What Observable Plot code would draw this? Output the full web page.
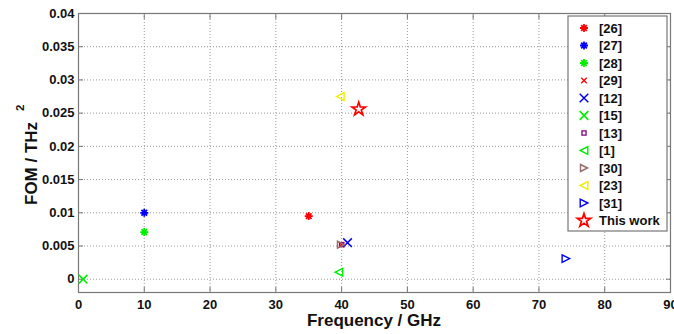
<!DOCTYPE html>
<html>
<head>
<meta charset="utf-8">
<script src="https://cdn.jsdelivr.net/npm/d3@7"></script>
<script src="https://cdn.jsdelivr.net/npm/@observablehq/plot@0.6"></script>
<style>
  html, body { margin: 0; padding: 0; background: #fff; }
  #chart { width: 674px; height: 334px; }
</style>
</head>
<body>
<div id="chart"></div>
<script>
// ---- data ----
const refs = ["[26]", "[27]", "[28]", "[29]", "[12]", "[15]", "[13]", "[1]", "[30]", "[23]", "[31]", "This work"];
const freqGHz = [35, 10, 10, 40, 40.9, 0.7, 40, 39.6, 39.9, 39.8, 74.1, 42.6];
const fomTHz2 = [0.0095, 0.0100, 0.0071, 0.0052, 0.0055, 0, 0.0052, 0.00105, 0.0052, 0.0275, 0.0031, 0.0256];
const xTicks = [0, 10, 20, 30, 40, 50, 60, 70, 80, 90];
const yTicks = [0, 0.005, 0.01, 0.015, 0.02, 0.025, 0.03, 0.035, 0.04];
const xLabel = "Frequency / GHz";
const yLabel = "FOM / THz";
const yLabelSup = "2";

// ---- marker shapes ----
const asterisk8 = { draw(ctx, size) { const r = Math.sqrt(size / Math.PI); const d = r * Math.SQRT1_2;
  ctx.moveTo(-r, 0); ctx.lineTo(r, 0); ctx.moveTo(0, -r); ctx.lineTo(0, r);
  ctx.moveTo(-d, -d); ctx.lineTo(d, d); ctx.moveTo(-d, d); ctx.lineTo(d, -d); } };
const triLeft = { draw(ctx, size) { const r = Math.sqrt(size / Math.PI);
  ctx.moveTo(-r, 0); ctx.lineTo(r, -r); ctx.lineTo(r, r); ctx.closePath(); } };
const triRight = { draw(ctx, size) { const r = Math.sqrt(size / Math.PI);
  ctx.moveTo(r, 0); ctx.lineTo(-r, -r); ctx.lineTo(-r, r); ctx.closePath(); } };

const styles = [
  { symbol: asterisk8, stroke: "#ff0000", r: 4, sw: 1.8 },
  { symbol: asterisk8, stroke: "#0000ff", r: 4, sw: 1.8 },
  { symbol: asterisk8, stroke: "#00ee00", r: 4, sw: 1.8 },
  { symbol: d3.symbolTimes, stroke: "#ff0000", r: 2.6, sw: 1.3 },
  { symbol: d3.symbolTimes, stroke: "#0000ff", r: 4, sw: 1.5 },
  { symbol: d3.symbolTimes, stroke: "#00ee00", r: 4, sw: 1.6 },
  { symbol: d3.symbolSquare, stroke: "#800080", r: 2.3, sw: 1.3 },
  { symbol: triLeft, stroke: "#00ee00", r: 3.8, sw: 1.4 },
  { symbol: triRight, stroke: "#9a6a6a", r: 3.5, sw: 1.4 },
  { symbol: triLeft, stroke: "#eeee00", r: 3.8, sw: 1.4 },
  { symbol: triRight, stroke: "#0000ff", r: 3.8, sw: 1.4 },
  { symbol: d3.symbolStar, stroke: "#ff0000", r: 4.2, sw: 1.7 }
];

const axisColor = "#777";
const font = "'Liberation Sans', Arial, Helvetica, sans-serif";

const plot = Plot.plot({
  width: 674, height: 334,
  marginTop: 13, marginRight: 4, marginBottom: 42, marginLeft: 78,
  style: { fontFamily: font, fontSize: "13px", fontWeight: "bold", background: "#fff", color: "#111" },
  x: { domain: [0, 90], label: null },
  y: { domain: [-0.002, 0.04], label: null },
  marks: [
    Plot.gridX(xTicks, { stroke: "#999", strokeOpacity: 1, strokeDasharray: "1,2" }),
    Plot.gridY(yTicks, { stroke: "#999", strokeOpacity: 1, strokeDasharray: "1,2" }),
    Plot.axisX(xTicks, { anchor: "bottom", tickSize: -5, tickPadding: 12, stroke: axisColor, fill: "#111", tickFormat: d => String(d) }),
    Plot.axisX(xTicks, { anchor: "top", tickSize: -5, stroke: axisColor, tickFormat: () => "" }),
    Plot.axisY(yTicks, { anchor: "left", tickSize: -5, tickPadding: 9, stroke: axisColor, fill: "#111", tickFormat: d => String(d) }),
    Plot.axisY(yTicks, { anchor: "right", tickSize: -5, stroke: axisColor, tickFormat: () => "" }),
    Plot.frame({ stroke: axisColor, strokeWidth: 1.2 }),
    ...refs.map((ref, i) => Plot.dot([i], {
      x: j => freqGHz[j], y: j => fomTHz2[j],
      symbol: styles[i].symbol, r: styles[i].r,
      stroke: styles[i].stroke, strokeWidth: styles[i].sw, fill: "none"
    }))
  ]
});

document.getElementById("chart").appendChild(plot);

// ---- axis titles and legend ----
const svg = d3.select(plot);
svg.append("text")
  .attr("x", 374).attr("y", 326)
  .attr("text-anchor", "middle")
  .attr("font-family", font).attr("font-size", 17).attr("font-weight", "bold").attr("fill", "#111")
  .text(xLabel);

const yl = svg.append("text")
  .attr("transform", "translate(37,205) rotate(-90)")
  .attr("text-anchor", "start")
  .attr("font-family", font).attr("font-size", 17).attr("font-weight", "bold").attr("fill", "#111");
yl.append("tspan").text(yLabel);
yl.append("tspan").attr("dx", 11).attr("dy", -13).attr("font-size", 11.5).text(yLabelSup);

const leg = svg.append("g").attr("transform", "translate(568,16)");
leg.append("rect").attr("width", 99).attr("height", 215).attr("fill", "#fff").attr("stroke", axisColor).attr("stroke-width", 1.2);
refs.forEach((ref, i) => {
  const s = styles[i];
  const cy = 12 + i * 17.5;
  leg.append("path")
    .attr("transform", `translate(16,${cy})`)
    .attr("d", d3.symbol(s.symbol, s.r * s.r * Math.PI)())
    .attr("fill", "none").attr("stroke", s.stroke).attr("stroke-width", s.sw);
  leg.append("text")
    .attr("x", 31).attr("y", cy + 4.5)
    .attr("text-anchor", "start")
    .attr("font-family", font).attr("font-size", 13).attr("font-weight", "bold").attr("fill", "#111")
    .text(ref);
});
</script>
</body>
</html>
